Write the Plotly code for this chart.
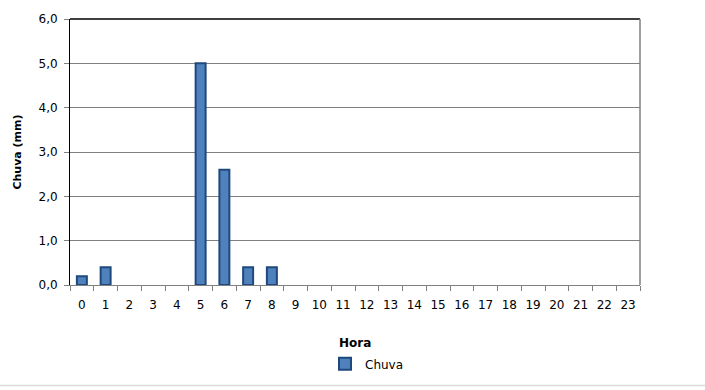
import plotly.graph_objects as go

horas = [str(h) for h in range(24)]
chuva = [0.2, 0.4, 0, 0, 0, 5.0, 2.6, 0.4, 0.4] + [0] * 15

FONT = "DejaVu Sans"
PLOT_W, PLOT_H = 570, 270  # px size of plot area

# no outline on empty hours so they leave no mark on the axis
outline_w = [2 if v > 0 else 0 for v in chuva]

fig = go.Figure()
fig.add_trace(go.Bar(
    x=horas, y=chuva, name="Chuva", width=0.42,
    marker=dict(color="#4F81BD", line=dict(color="#1F497D", width=outline_w)),
))

fig.update_layout(
    width=705, height=390,
    margin=dict(l=70, r=65, t=16, b=104),
    paper_bgcolor="white", plot_bgcolor="white",
    separators=",.",
    font=dict(family=FONT, size=12, color="black"),
    showlegend=True,
    legend=dict(orientation="h", x=0.5 + 12 / PLOT_W, xanchor="center",
                y=-80 / PLOT_H, yanchor="middle",
                font=dict(size=12), itemwidth=30),
)
fig.update_xaxes(
    type="category", range=[-0.5, 23.5], tickson="boundaries",
    ticks="outside", ticklen=5, tickcolor="#808080", tickangle=0,
    showline=True, linecolor="#808080", linewidth=1,
    showgrid=False, tickfont=dict(size=12), ticklabelstandoff=9,
    fixedrange=True,
)
fig.update_yaxes(
    range=[0, 6], dtick=1, tickformat=".1f",
    ticks="outside", ticklen=5, tickcolor="#808080",
    showline=True, linecolor="black", linewidth=1,
    showgrid=True, gridcolor="#808080", gridwidth=1,
    tickfont=dict(size=12), zeroline=False, ticklabelstandoff=4,
    title=dict(text="<b>Chuva (mm)</b>", font=dict(size=11), standoff=14),
)

# top (black) and right (gray) frame of the plot area
fig.add_shape(type="line", xref="paper", yref="paper", x0=0, x1=1, y0=1, y1=1,
              line=dict(color="black", width=1.5))
fig.add_shape(type="line", xref="paper", yref="paper", x0=1, x1=1, y0=0, y1=1,
              line=dict(color="#808080", width=1.5))
# light border line at the foot of the chart
fig.add_shape(type="line", xref="paper", yref="paper",
              x0=-70 / PLOT_W, x1=635 / PLOT_W, y0=-102 / PLOT_H, y1=-102 / PLOT_H,
              line=dict(color="#D9D9D9", width=1.5))

fig.add_annotation(text="<b>Hora</b>", xref="paper", yref="paper",
                   x=0.5, y=-59 / PLOT_H, yanchor="middle", showarrow=False,
                   font=dict(size=12))

fig.write_html("out.html")
